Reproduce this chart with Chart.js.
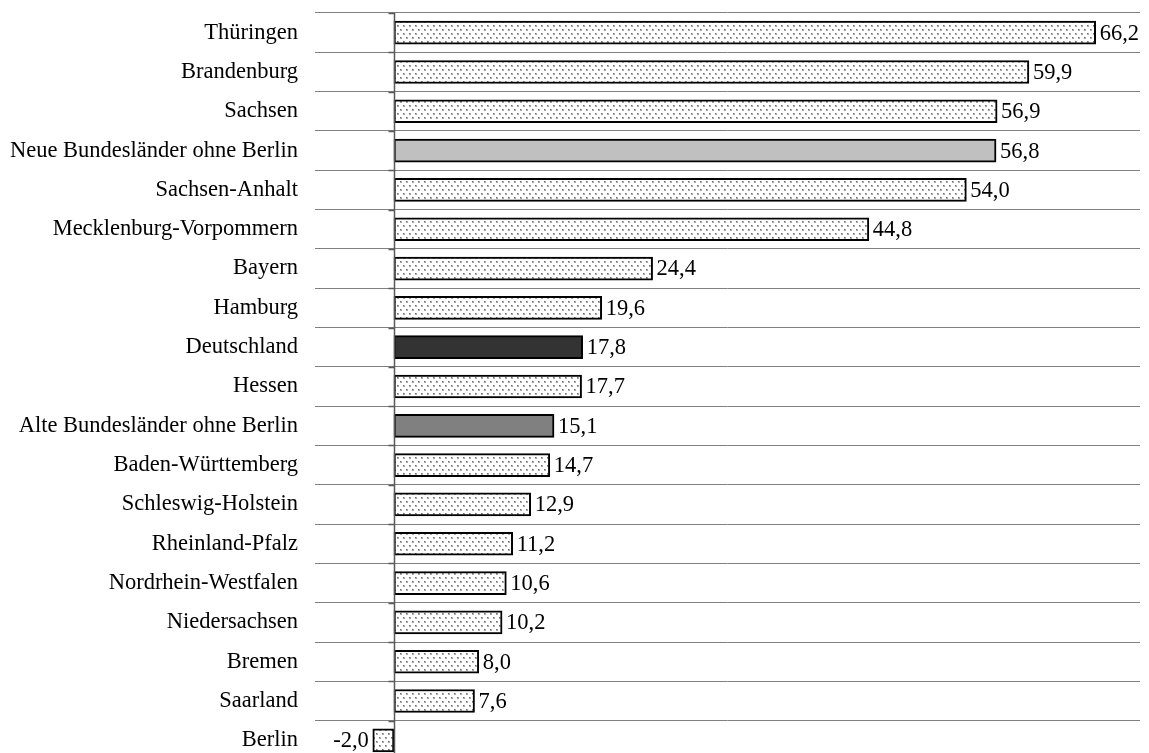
<!DOCTYPE html>
<html>
<head>
<meta charset="utf-8">
<script src="https://cdn.jsdelivr.net/npm/chart.js@4/dist/chart.umd.min.js"></script>
<style>
  html, body { margin: 0; padding: 0; background: #fff; overflow: hidden; }
</style>
</head>
<body>
<canvas id="barCanvas" width="1149" height="770"></canvas>
<script>
const laender = ["Thüringen", "Brandenburg", "Sachsen", "Neue Bundesländer ohne Berlin", "Sachsen-Anhalt",
    "Mecklenburg-Vorpommern", "Bayern", "Hamburg", "Deutschland", "Hessen", "Alte Bundesländer ohne Berlin",
    "Baden-Württemberg", "Schleswig-Holstein", "Rheinland-Pfalz", "Nordrhein-Westfalen", "Niedersachsen",
    "Bremen", "Saarland", "Berlin"]
const werte = [66.2, 59.9, 56.9, 56.8, 54.0, 44.8, 24.4, 19.6, 17.8, 17.7, 15.1, 14.7, 12.9, 11.2, 10.6, 10.2, 8.0, 7.6, -2.0]
const sonderFarben = {
    "Neue Bundesländer ohne Berlin": "#c0c0c0",
    "Deutschland": "#333333",
    "Alte Bundesländer ohne Berlin": "#808080"
}

const schrift = "'Liberation Serif', 'DejaVu Serif', serif"

// dotted fill like the excel pattern
function dotPattern() {
    const c = document.createElement("canvas")
    c.width = 6
    c.height = 8
    const g = c.getContext("2d")
    g.fillStyle = "#ffffff"
    g.fillRect(0, 0, 6, 8)
    g.fillStyle = "#a8a8a8"
    g.fillRect(1, 1, 2, 2)
    g.fillRect(4, 5, 2, 2)
    g.fillStyle = "#707070"
    g.fillRect(1, 1, 1, 1)
    g.fillRect(4, 5, 1, 1)
    return g.createPattern(c, "repeat")
}
const muster = dotPattern()

const extras = {
    id: "extras",
    afterDatasetsDraw(chart) {
        const ctx = chart.ctx
        const x = chart.scales.x
        const area = chart.chartArea
        const x0 = Math.round(x.getPixelForValue(0)) + 0.5

        ctx.save()
        ctx.strokeStyle = "#595959"
        ctx.lineWidth = 1.5
        ctx.beginPath()
        ctx.moveTo(x0, area.top)
        ctx.lineTo(x0, area.bottom)
        // little tick marks at the category borders
        const step = (area.bottom - area.top) / laender.length
        for (let i = 0; i <= laender.length; i++) {
            const yy = Math.round(area.top + i * step) + 0.5
            ctx.moveTo(x0 - 6, yy)
            ctx.lineTo(x0, yy)
        }
        ctx.stroke()

        ctx.fillStyle = "#000"
        ctx.font = "22.5px " + schrift
        ctx.textBaseline = "middle"
        chart.getDatasetMeta(0).data.forEach((bar, i) => {
            const v = werte[i]
            const txt = v.toFixed(1).replace(".", ",")
            if (v >= 0) {
                ctx.textAlign = "left"
                ctx.fillText(txt, bar.x + 4, bar.y + 1)
            } else {
                ctx.textAlign = "right"
                ctx.fillText(txt, bar.x - 4, bar.y + 1)
            }
        })
        ctx.restore()
    }
}

const barCanvas = document.getElementById("barCanvas")
const barChart = new Chart(barCanvas, {
    type: "bar",
    data: {
        labels: laender,
        datasets: [{
            data: werte,
            backgroundColor: laender.map(l => sonderFarben[l] || muster),
            borderColor: "#000",
            borderWidth: 2,
            borderSkipped: false,
            barThickness: 23
        }]
    },
    options: {
        indexAxis: "y",
        responsive: false,
        animation: false,
        devicePixelRatio: 1,
        layout: { padding: { top: 13, bottom: 10, left: 0, right: 9 } },
        plugins: {
            legend: { display: false },
            tooltip: { enabled: false }
        },
        scales: {
            x: {
                display: false,
                min: -7.45,
                max: 70.38
            },
            y: {
                afterFit: scale => {
                    scale.width = 315
                    scale.paddingTop = 0
                    scale.paddingBottom = 0
                },
                grid: {
                    offset: true,
                    color: "#808080",
                    lineWidth: 1,
                    drawTicks: false
                },
                border: { display: false },
                ticks: {
                    padding: 17,
                    color: "#000",
                    font: { family: schrift, size: 22.5 }
                }
            }
        }
    },
    plugins: [extras]
})
</script>
</body>
</html>
